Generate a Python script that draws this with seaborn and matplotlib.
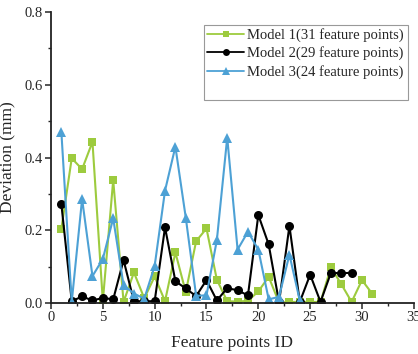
import numpy as np
import pandas as pd
import matplotlib
matplotlib.use("Agg")
import matplotlib.pyplot as plt
from matplotlib.lines import Line2D
from matplotlib.ticker import MultipleLocator
import seaborn as sns

# deviation per feature point
model1 = [0.204, 0.398, 0.368, 0.443, 0.005, 0.338, 0.003, 0.084, 0.013, 0.073,
          0.005, 0.139, 0.030, 0.170, 0.205, 0.064, 0.005, 0.004, 0.006, 0.032,
          0.072, 0.001, 0.003, 0.003, 0.003, 0.003, 0.098, 0.052, 0.003, 0.063,
          0.025]
model2 = [0.272, 0.005, 0.018, 0.007, 0.014, 0.010, 0.118, 0.005, 0.005, 0.005,
          0.208, 0.060, 0.040, 0.019, 0.063, 0.007, 0.041, 0.035, 0.021, 0.242,
          0.161, 0.002, 0.212, 0.003, 0.078, 0.003, 0.083, 0.082, 0.083]
model3 = [0.470, 0.003, 0.286, 0.074, 0.121, 0.233, 0.049, 0.026, 0.012, 0.102,
          0.309, 0.430, 0.235, 0.020, 0.021, 0.173, 0.455, 0.147, 0.196, 0.147,
          0.010, 0.017, 0.133, 0.007]
labels = ["Model 1(31 feature points)", "Model 2(29 feature points)",
          "Model 3(24 feature points)"]

series = [model1, model2, model3]
frames = []
for lab, vals in zip(labels, series):
    frames.append(pd.DataFrame({"id": np.arange(1, len(vals) + 1),
                                "dev": vals, "model": lab}))
df = pd.concat(frames, ignore_index=True)

sns.set_theme(style="ticks")
plt.rcParams['font.family'] = ['Liberation Serif', 'DejaVu Serif']
plt.rcParams['xtick.direction'] = 'out'
plt.rcParams['ytick.direction'] = 'out'

colors = ["#9DCB3E", "#000000", "#4DA1D5"]
markers = ["s", "o", "^"]
msizes = [5.5, 6.5, 7.5]

fig = plt.figure(figsize=(4.18, 3.54), dpi=100)
ax = fig.add_axes([0.122, 0.144, 0.868, 0.822])

handles = []
for lab, c, m, ms in zip(labels, colors, markers, msizes):
    sub = df[df["model"] == lab]
    sns.lineplot(data=sub, x="id", y="dev", ax=ax, color=c, marker=m,
                 markersize=ms, markeredgewidth=0, linewidth=1.5,
                 legend=False)
    handles.append(Line2D([], [], color=c, marker=m, markersize=ms - 1.5,
                          markeredgewidth=0, linewidth=1.3, label=lab))
handles.append(Line2D([], [], color="none", label=" "))

ax.set_xlim(0, 35)
ax.set_ylim(0, 0.8)
ax.xaxis.set_major_locator(MultipleLocator(5))
ax.xaxis.set_minor_locator(MultipleLocator(2.5))
ax.yaxis.set_major_locator(MultipleLocator(0.2))
ax.yaxis.set_minor_locator(MultipleLocator(0.1))
ax.set_yticklabels([f"{v:.1f}" for v in ax.get_yticks()])
ax.tick_params(which="major", length=4, width=1.1, labelsize=10.5, pad=2)
ax.tick_params(which="minor", length=2.5, width=1.0)
for s in ["top", "right"]:
    ax.spines[s].set_visible(False)
for s in ["left", "bottom"]:
    ax.spines[s].set_linewidth(1.3)
    ax.spines[s].set_color("#222222")

ax.set_xlabel("Feature points ID", fontsize=12.5, labelpad=8)
ax.set_ylabel("Deviation (mm)", fontsize=12.5, labelpad=6)

leg = ax.legend(handles=handles, loc="upper right", bbox_to_anchor=(0.983, 0.957),
                fontsize=10.5, frameon=True, fancybox=False, framealpha=1,
                handlelength=2.5, handletextpad=0.25, borderpad=0.25,
                labelspacing=0.3, borderaxespad=0.0)
leg.get_frame().set_edgecolor("#999999")
leg.get_frame().set_linewidth(0.8)

plt.savefig("out.png", dpi=100)
plt.close()
